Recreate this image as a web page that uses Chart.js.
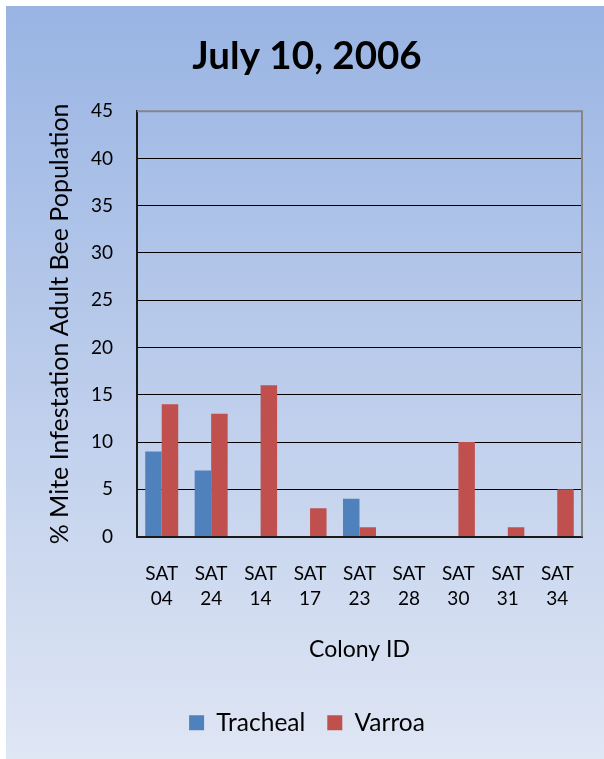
<!DOCTYPE html>
<html>
<head>
<meta charset="utf-8">
<script src="https://cdn.jsdelivr.net/npm/chart.js@4/dist/chart.umd.min.js"></script>
<style>
  html, body { margin: 0; padding: 0; background: #ffffff; }
  #wrap { position: relative; width: 604px; height: 759px; }
</style>
</head>
<body>
<div id="wrap"><canvas id="c" width="604" height="759"></canvas></div>
<script>
const categories = [["SAT","04"],["SAT","24"],["SAT","14"],["SAT","17"],["SAT","23"],["SAT","28"],["SAT","30"],["SAT","31"],["SAT","34"]];
const tracheal = [9, 7, 0, 0, 4, 0, 0, 0, 0];
const varroa = [14, 13, 16, 3, 1, 0, 10, 1, 5];
const yTicks = [0, 5, 10, 15, 20, 25, 30, 35, 40, 45];

const FONT = "Lato, 'Open Sans', sans-serif";

const bgPlugin = {
  id: 'bg',
  beforeDraw(chart) {
    const ctx = chart.ctx;
    ctx.save();
    ctx.fillStyle = '#ffffff';
    ctx.fillRect(0, 0, chart.width, chart.height);
    const g = ctx.createLinearGradient(0, 6, 0, chart.height);
    g.addColorStop(0, '#99b4e3');
    g.addColorStop(1, '#dfe6f4');
    ctx.fillStyle = g;
    ctx.fillRect(6, 6, chart.width - 6, chart.height - 6);
    ctx.restore();
  },
  afterDatasetsDraw(chart) {
    const a = chart.chartArea, ctx = chart.ctx;
    ctx.save();
    ctx.strokeStyle = '#868686';
    ctx.lineWidth = 2;
    ctx.beginPath();
    ctx.moveTo(a.left, a.top);
    ctx.lineTo(a.right, a.top);
    ctx.lineTo(a.right, a.bottom);
    ctx.stroke();
    ctx.restore();
  }
};

new Chart(document.getElementById('c'), {
  type: 'bar',
  data: {
    labels: categories,
    datasets: [
      { label: 'Tracheal', data: tracheal, backgroundColor: '#4f81bd', borderWidth: 0,
        categoryPercentage: 0.667, barPercentage: 1.0 },
      { label: 'Varroa', data: varroa, backgroundColor: '#c0504d', borderWidth: 0,
        categoryPercentage: 0.667, barPercentage: 1.0 }
    ]
  },
  plugins: [bgPlugin],
  options: {
    responsive: false,
    animation: false,
    layout: { padding: { left: 32, right: 22, top: 33, bottom: 14 } },
    plugins: {
      title: {
        display: true,
        text: 'July 10, 2006',
        color: '#000000',
        font: { family: FONT, size: 38.5, weight: 'bold' },
        padding: { top: 0, bottom: 32 }
      },
      legend: {
        position: 'bottom',
        labels: {
          color: '#000000',
          font: { family: FONT, size: 24.5 },
          boxWidth: 15, boxHeight: 15,
          padding: 22
        }
      },
      tooltip: { enabled: false }
    },
    scales: {
      x: {
        grid: { display: false, drawTicks: false },
        border: { display: true, color: '#1a1a1a', width: 2 },
        ticks: { color: '#000000', font: { family: FONT, size: 19, lineHeight: 1.35 }, padding: 24, maxRotation: 0, autoSkip: false },
        title: { display: true, text: 'Colony ID', color: '#000000', font: { family: FONT, size: 23 }, padding: { top: 0, bottom: 25 } }
      },
      y: {
        min: 0, max: 45,
        afterBuildTicks(axis) { axis.ticks = yTicks.map(v => ({ value: v })); },
        afterFit(axis) { axis.width = 105; },
        grid: { color: '#000000', lineWidth: 1, drawTicks: false },
        border: { display: true, color: '#1a1a1a', width: 2 },
        ticks: { color: '#000000', font: { family: FONT, size: 19 }, padding: 24 },
        title: { display: true, text: '% Mite Infestation Adult Bee Population', color: '#000000', font: { family: FONT, size: 25 }, padding: { top: 12.5, bottom: 0 } }
      }
    }
  }
});
</script>
</body>
</html>
